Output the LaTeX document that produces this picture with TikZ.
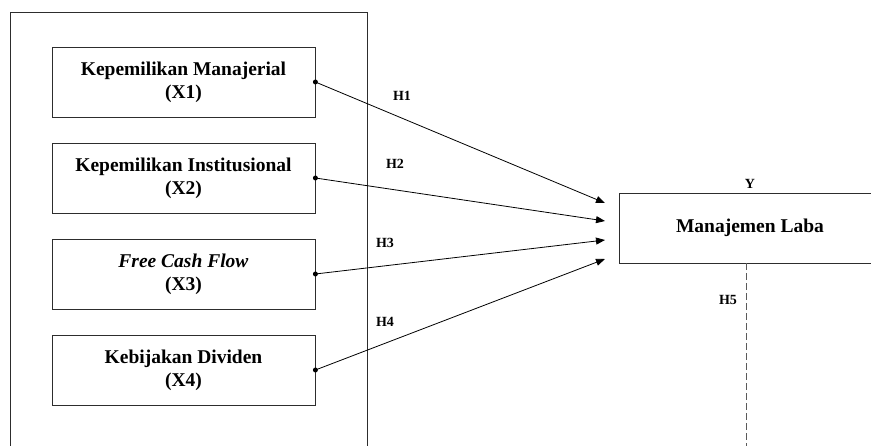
\documentclass[tikz,border=0pt]{standalone}
\usepackage{fontspec}
\setmainfont{Liberation Serif}
\usetikzlibrary{arrows.meta}

\begin{document}
\begin{tikzpicture}[x=1pt, y=-1pt, line width=.8pt]
	\definecolor{frame}{RGB}{45, 45, 45}
	\definecolor{dashgray}{RGB}{90, 90, 90}
	\tikzset{
		varbox/.style={draw=frame, minimum width=263pt, minimum height=70pt, align=center, inner sep=0pt, font=\fontsize{19.5}{23}\selectfont\bfseries},
		hlabel/.style={inner sep=0pt, font=\fontsize{14}{16}\selectfont\bfseries},
		dot/.style={circle, fill, inner sep=0pt, minimum size=5pt},
		link/.style={-{Stealth[inset=0pt, length=9pt, width=7pt]}},
	}
	\clip (0, 0) rectangle (871, 446);

	% \drawvariable#name#ycenter#label#code
	\def\drawvariable#1#2#3#4{
		\node[varbox] (#1) at (183.5, #2) {#3\\(#4)};
		\node[dot] (#1dot) at (#1.east) {};
	}

	% frame round the independent variables
	\draw[frame] (10, 12) rectangle (367, 470);

	% diagram
	\drawvariable{x1}{82}{Kepemilikan Manajerial}{X1}
	\drawvariable{x2}{178}{Kepemilikan Institusional}{X2}
	\drawvariable{x3}{274}{\textit{Free Cash Flow}}{X3}
	\drawvariable{x4}{370}{Kebijakan Dividen}{X4}

	\node[varbox, minimum width=262pt] (y) at (750, 228) {Manajemen Laba};
	\node[hlabel] (ylabel) at (750, 184) {Y};

	\coordinate (t1) at (605, 203);
	\coordinate (t2) at (605, 221);
	\coordinate (t3) at (605, 240);
	\coordinate (t4) at (605, 259);
	\draw[link] (x1dot.center) -- (t1);
	\draw[link] (x2dot.center) -- (t2);
	\draw[link] (x3dot.center) -- (t3);
	\draw[link] (x4dot.center) -- (t4);

	\node[hlabel] (h1) at (402, 96) {H1};
	\node[hlabel] (h2) at (395, 164) {H2};
	\node[hlabel] (h3) at (385, 243) {H3};
	\node[hlabel] (h4) at (385, 322) {H4};

	\coordinate (h5end) at (746, 470);
	\draw[dashgray, line width=1pt, dash pattern=on 7pt off 3pt] (y.south -| h5end) -- (h5end);
	\node[hlabel] (h5) at (728, 300) {H5};
\end{tikzpicture}
\end{document}
